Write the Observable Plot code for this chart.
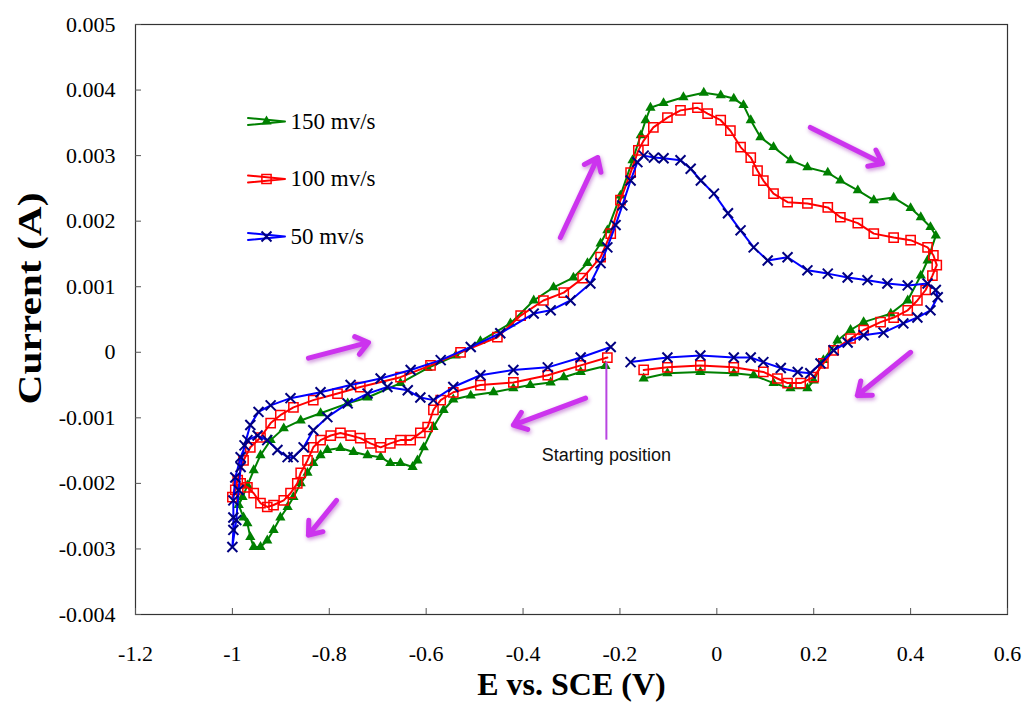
<!DOCTYPE html>
<html><head><meta charset="utf-8">
<script src="https://cdn.jsdelivr.net/npm/d3@7"></script>
<script src="https://cdn.jsdelivr.net/npm/@observablehq/plot@0.6"></script>
<style>body{margin:0;background:#fff}#chart{width:1026px;height:702px}</style>
</head><body><div id="chart"></div>
<script>
// E (V vs SCE), I (A) pairs, in sweep order: start -> -1 V -> +0.45 V -> back
const curve150 = [[-0.230,-0.00021],[-0.281,-0.00030],[-0.316,-0.00038],[-0.343,-0.00046],[-0.385,-0.00050],[-0.420,-0.00055],[-0.461,-0.00061],[-0.508,-0.00066],[-0.544,-0.00072],[-0.564,-0.00088],[-0.585,-0.00114],[-0.605,-0.00145],[-0.618,-0.00165],[-0.628,-0.00175],[-0.653,-0.00169],[-0.674,-0.00169],[-0.694,-0.00160],[-0.721,-0.00157],[-0.750,-0.00152],[-0.777,-0.00146],[-0.804,-0.00149],[-0.818,-0.00157],[-0.833,-0.00169],[-0.845,-0.00184],[-0.859,-0.00200],[-0.874,-0.00221],[-0.886,-0.00236],[-0.901,-0.00252],[-0.915,-0.00271],[-0.928,-0.00287],[-0.942,-0.00297],[-0.956,-0.00297],[-0.963,-0.00282],[-0.969,-0.00261],[-0.977,-0.00252],[-0.987,-0.00233],
[-0.979,-0.00221],[-0.969,-0.00203],[-0.956,-0.00180],[-0.942,-0.00157],[-0.921,-0.00134],[-0.894,-0.00116],[-0.859,-0.00104],[-0.818,-0.00093],[-0.762,-0.00078],[-0.721,-0.00069],[-0.653,-0.00047],[-0.597,-0.00024],[-0.539,-0.00005],[-0.488,0.00017],[-0.426,0.00044],[-0.378,0.00079],[-0.337,0.00099],[-0.296,0.00114],[-0.267,0.00136],[-0.240,0.00166],[-0.226,0.00186],[-0.199,0.00239],[-0.174,0.00293],[-0.157,0.00331],[-0.147,0.00354],[-0.137,0.00373],[-0.110,0.00380],[-0.069,0.00389],[-0.027,0.00396],[0.008,0.00392],[0.035,0.00387],[0.055,0.00377],[0.070,0.00354],[0.090,0.00328],[0.117,0.00313],[0.152,0.00293],[0.187,0.00282],[0.229,0.00274],[0.255,0.00262],[0.291,0.00247],[0.324,0.00232],[0.365,0.00236],[0.400,0.00220],[0.421,0.00206],[0.441,0.00191],[0.452,0.00178],
[0.435,0.00140],[0.421,0.00117],[0.394,0.00079],[0.359,0.00059],[0.303,0.00046],[0.276,0.00034],[0.249,0.00018],[0.220,-0.00012],[0.200,-0.00043],[0.187,-0.00055],[0.152,-0.00055],[0.117,-0.00047],[0.076,-0.00035],[0.035,-0.00032],[-0.034,-0.00030],[-0.102,-0.00032],[-0.151,-0.00040]];

const curve100 = [[-0.226,-0.00008],[-0.281,-0.00020],[-0.349,-0.00035],[-0.420,-0.00046],[-0.488,-0.00050],[-0.544,-0.00061],[-0.570,-0.00073],[-0.585,-0.00088],[-0.597,-0.00114],[-0.612,-0.00123],[-0.632,-0.00134],[-0.653,-0.00134],[-0.674,-0.00139],[-0.694,-0.00145],[-0.715,-0.00139],[-0.736,-0.00131],[-0.756,-0.00127],[-0.777,-0.00123],[-0.797,-0.00127],[-0.818,-0.00134],[-0.833,-0.00145],[-0.845,-0.00165],[-0.859,-0.00184],[-0.866,-0.00200],[-0.880,-0.00215],[-0.894,-0.00226],[-0.915,-0.00233],[-0.928,-0.00236],[-0.942,-0.00230],[-0.956,-0.00215],[-0.969,-0.00206],[-0.983,-0.00200],[-0.994,-0.00210],[-1.000,-0.00221],
[-0.989,-0.00195],[-0.977,-0.00165],[-0.963,-0.00145],[-0.942,-0.00130],[-0.921,-0.00108],[-0.901,-0.00096],[-0.874,-0.00084],[-0.833,-0.00073],[-0.783,-0.00063],[-0.736,-0.00053],[-0.653,-0.00038],[-0.591,-0.00020],[-0.529,0.00000],[-0.453,0.00023],[-0.405,0.00056],[-0.358,0.00079],[-0.316,0.00091],[-0.277,0.00113],[-0.240,0.00145],[-0.219,0.00181],[-0.199,0.00232],[-0.178,0.00274],[-0.162,0.00308],[-0.151,0.00323],[-0.131,0.00343],[-0.102,0.00358],[-0.075,0.00369],[-0.040,0.00373],[-0.019,0.00364],[0.008,0.00354],[0.028,0.00338],[0.049,0.00313],[0.070,0.00297],[0.084,0.00277],[0.096,0.00262],[0.117,0.00242],[0.146,0.00229],[0.187,0.00227],[0.229,0.00221],[0.255,0.00206],[0.291,0.00197],[0.324,0.00181],[0.365,0.00175],[0.400,0.00171],[0.435,0.00160],[0.447,0.00148],
[0.454,0.00133],[0.445,0.00117],[0.431,0.00095],[0.414,0.00079],[0.394,0.00064],[0.365,0.00053],[0.338,0.00046],[0.303,0.00034],[0.276,0.00021],[0.241,0.00003],[0.220,-0.00017],[0.200,-0.00038],[0.173,-0.00047],[0.146,-0.00047],[0.125,-0.00040],[0.096,-0.00030],[0.035,-0.00023],[-0.034,-0.00020],[-0.102,-0.00023],[-0.151,-0.00027]];

const curve50 = [[-0.219,0.00008],[-0.281,-0.00008],[-0.349,-0.00023],[-0.420,-0.00027],[-0.488,-0.00035],[-0.544,-0.00053],[-0.585,-0.00073],[-0.612,-0.00069],[-0.638,-0.00058],[-0.680,-0.00053],[-0.721,-0.00063],[-0.762,-0.00078],[-0.804,-0.00099],[-0.833,-0.00119],[-0.853,-0.00145],[-0.874,-0.00160],[-0.886,-0.00160],[-0.907,-0.00149],[-0.928,-0.00134],[-0.948,-0.00127],[-0.969,-0.00134],[-0.983,-0.00160],[-0.994,-0.00191],[-0.998,-0.00226],[-0.998,-0.00252],[-0.998,-0.00271],[-1.000,-0.00297],
[-0.992,-0.00256],[-0.987,-0.00210],[-0.983,-0.00175],[-0.975,-0.00142],[-0.963,-0.00111],[-0.946,-0.00091],[-0.921,-0.00081],[-0.880,-0.00070],[-0.818,-0.00061],[-0.756,-0.00050],[-0.694,-0.00040],[-0.632,-0.00027],[-0.570,-0.00012],[-0.508,0.00008],[-0.447,0.00029],[-0.378,0.00059],[-0.343,0.00064],[-0.302,0.00079],[-0.261,0.00105],[-0.240,0.00136],[-0.226,0.00160],[-0.209,0.00194],[-0.195,0.00224],[-0.178,0.00262],[-0.164,0.00290],[-0.151,0.00300],[-0.130,0.00297],[-0.110,0.00296],[-0.075,0.00293],[-0.054,0.00280],[-0.033,0.00262],[-0.006,0.00242],[0.023,0.00212],[0.049,0.00186],[0.076,0.00160],[0.105,0.00140],[0.146,0.00145],[0.187,0.00125],[0.229,0.00120],[0.270,0.00114],[0.311,0.00110],[0.352,0.00105],[0.394,0.00102],[0.435,0.00105],[0.452,0.00095],
[0.456,0.00084],[0.441,0.00064],[0.414,0.00053],[0.385,0.00044],[0.344,0.00030],[0.303,0.00026],[0.270,0.00015],[0.241,0.00003],[0.214,-0.00017],[0.193,-0.00032],[0.167,-0.00030],[0.132,-0.00024],[0.096,-0.00015],[0.070,-0.00008],[0.035,-0.00008],[-0.034,-0.00005],[-0.102,-0.00008],[-0.178,-0.00015]];

const seriesLabels = ["150 mv/s", "100 mv/s", "50 mv/s"];
const xTicks = [-1.2, -1, -0.8, -0.6, -0.4, -0.2, 0, 0.2, 0.4, 0.6];
const yTicks = [-0.004, -0.003, -0.002, -0.001, 0, 0.001, 0.002, 0.003, 0.004, 0.005];
// direction arrows: [E1, I1, E2, I2]
const sweepArrows = [[-0.843,-0.00009,-0.719,0.00015],[-0.323,0.00175,-0.246,0.00297],[0.193,0.00343,0.342,0.00288],[0.400,0.00000,0.290,-0.00066],[-0.271,-0.00070,-0.420,-0.00111],[-0.785,-0.00226,-0.843,-0.00279]];
const startNote = [{E: -0.228, top: -0.00015, bottom: -0.00134, labelI: -0.00157, text: "Starting position"}];

const styles = [
  {points: curve150, line: "#008000", symbol: "triangle", r: 3.8, fill: "#008000", stroke: "none", sw: 0},
  {points: curve100, line: "#ff0000", symbol: "square", r: 5.2, fill: "none", stroke: "#ff0000", sw: 1.5},
  {points: curve50, line: "#0000ff", symbol: "times", r: 4.6, fill: "none", stroke: "#000080", sw: 2}
];

const fmtX = d => { const v = +(+d).toFixed(1); return v === 0 ? "0" : String(v); };
const fmtY = d => { const v = +(+d).toFixed(3); return v === 0 ? "0" : String(v); };

const marks = [
  Plot.frame({stroke: "#333", strokeWidth: 1.2}),
  Plot.axisX(xTicks, {tickSize: -6, tickPadding: 37, fontSize: 22, tickFormat: fmtX, label: null, stroke: "#555"}),
  Plot.axisY(yTicks, {tickSize: -6, tickPadding: 26, fontSize: 22, tickFormat: fmtY, label: null, stroke: "#555"})
];

styles.forEach((s, k) => {
  marks.push(Plot.line(s.points, {x: d => d[0], y: d => d[1], stroke: s.line, strokeWidth: 2}));
  marks.push(Plot.dot(s.points, {x: d => d[0], y: d => d[1], symbol: s.symbol, r: s.r, fill: s.fill, stroke: s.stroke, strokeWidth: s.sw}));
  // legend entry
  const dy = 97 + k * 57.5;
  marks.push(Plot.vector([seriesLabels[k]], {frameAnchor: "top-left", dx: 131, dy, length: 37, rotate: 90, anchor: "middle", stroke: s.line, strokeWidth: 2, shape: "spike"}));
  marks.push(Plot.dot([seriesLabels[k]], {frameAnchor: "top-left", dx: 131, dy, symbol: s.symbol, r: s.r, fill: s.fill, stroke: s.stroke, strokeWidth: s.sw}));
  marks.push(Plot.text([seriesLabels[k]], {frameAnchor: "top-left", dx: 155, dy, text: d => d, textAnchor: "start", lineAnchor: "middle", fontSize: 23}));
});

marks.push(
  Plot.ruleX(startNote, {x: "E", y1: "top", y2: "bottom", stroke: "#b845e0", strokeWidth: 2}),
  Plot.text(startNote, {x: "E", y: "labelI", text: "text", fontFamily: "'Liberation Sans', Arial, sans-serif", fontSize: 18, fill: "#111"}),
  Plot.arrow(sweepArrows, {x1: d => d[0], y1: d => d[1], x2: d => d[2], y2: d => d[3], stroke: "#cc33ee", strokeWidth: 5, headLength: 4.5, headAngle: 75, strokeLinecap: "round", strokeLinejoin: "round"}),
  Plot.text(["Current (A)"], {frameAnchor: "left", dx: -105, dy: -21, rotate: -90, text: d => d, textAnchor: "middle", lineAnchor: "middle", fontSize: 33, fontWeight: "bold"}),
  Plot.text(["E vs. SCE (V)"], {frameAnchor: "bottom", dy: 70, text: d => d, textAnchor: "middle", lineAnchor: "middle", fontSize: 32, fontWeight: "bold"})
);

const chart = Plot.plot({
  width: 1026, height: 702,
  marginLeft: 135, marginRight: 19, marginTop: 24, marginBottom: 88,
  style: {fontFamily: "'Liberation Serif', 'Times New Roman', serif", background: "#fff", color: "#000", overflow: "visible"},
  x: {domain: [-1.2, 0.6]},
  y: {domain: [-0.004, 0.005]},
  marks
});
d3.select(chart).selectAll('g[aria-label="arrow"]').style("filter", "drop-shadow(1px 2px 2px rgba(140,0,170,0.45))");
d3.select(chart).selectAll("text").filter(function() { return this.textContent === "Current (A)"; })
  .attr("textLength", 212).attr("lengthAdjust", "spacingAndGlyphs");
document.getElementById("chart").appendChild(chart);
</script>
</body></html>
